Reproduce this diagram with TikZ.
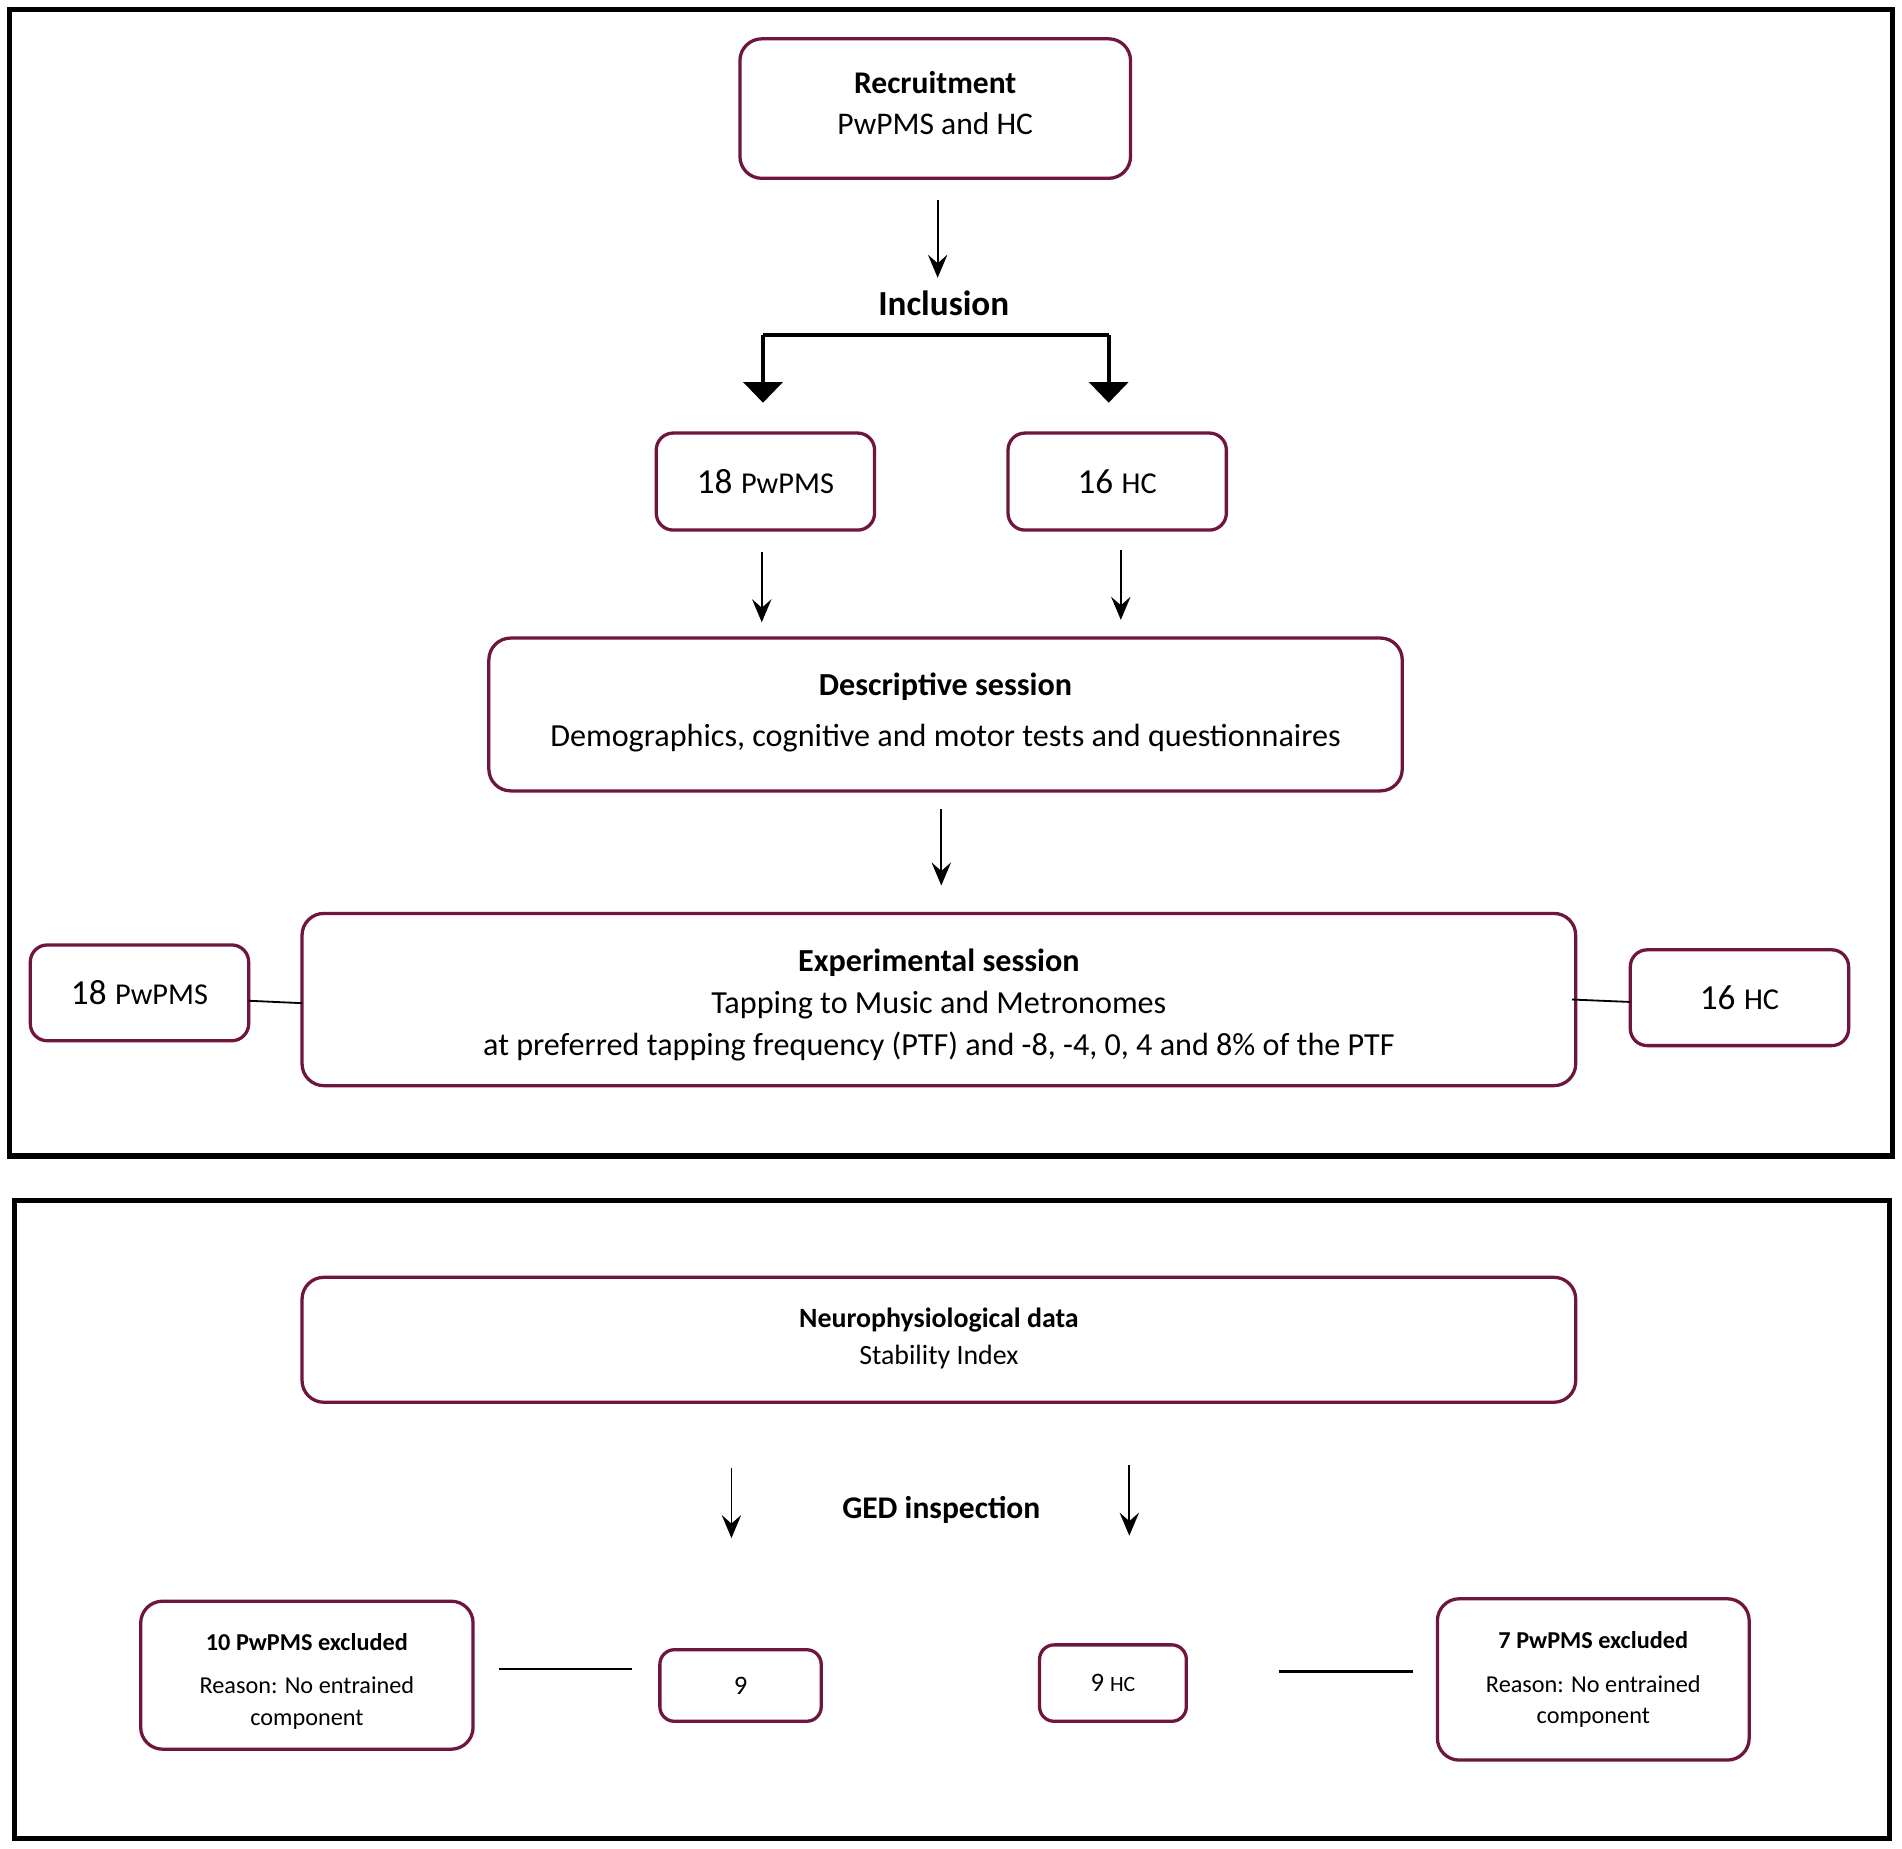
\documentclass[tikz,border=0pt]{standalone}
\usepackage{fontspec}
\setmainfont{Carlito}
\usetikzlibrary{arrows.meta,calc}
\definecolor{boxred}{RGB}{110,22,62}
\newcommand{\fs}[2]{\fontsize{#1}{#2}\selectfont}
\begin{document}
\begin{tikzpicture}[x=1pt,y=-1pt,
  box/.style={draw=boxred, line width=2.7pt, rounded corners=18pt, inner sep=0pt, outer sep=0pt, align=center, fill=white},
  sbox/.style={box, rounded corners=14pt},
  arr/.style={line width=1.5pt, -{Stealth[length=19pt,width=16pt,inset=7pt]}},
  bigarr/.style={line width=3.4pt, -{Triangle[length=17pt,width=32pt]}},
  frame/.style={draw=black, line width=4.2pt},
  link/.style={line width=1.5pt},
  hlink/.style={line width=2pt},
  lbl/.style={inner sep=0pt, outer sep=0pt, align=center}
]
\useasboundingbox (0,0) rectangle (1568,1523.5);
\fill[white] (0,0) rectangle (1568,1523.5);

% frames
\draw[frame] (8,8) rectangle (1560,953);
\draw[frame] (12,990) rectangle (1558,1516);

% ---------- top panel ----------
\node[box, minimum width=322pt, minimum height=115pt] (rec) at (771,89.5) {};
\node[lbl, font=\fs{26}{34}] (rect) at ($(rec.center)+(0,-4.5)$)
  {\textbf{Recruitment}\\PwPMS and HC};
\node[lbl, font=\fs{29}{34}\bfseries, text height=20pt, text depth=0pt] (incl) at (778,250) {Inclusion};

\node[sbox, minimum width=180pt, minimum height=80pt] (p18) at (631,397)
  {{\fs{29}{30}18}\hspace{7pt}{\fs{25}{30}PwPMS}};
\node[sbox, minimum width=180pt, minimum height=80pt] (h16) at (921,397)
  {{\fs{29}{30}16}\hspace{7pt}{\fs{25}{30}HC}};

\node[box, minimum width=753pt, minimum height=126pt] (desc) at (779.5,589) {};
\node[lbl, font=\fs{26.5}{42}] (desct) at ($(desc.center)+(0,-2)$)
  {\textbf{Descriptive session}\\Demographics, cognitive and motor tests and questionnaires};

\node[box, minimum width=1050pt, minimum height=142pt] (exp) at (774,824) {};
\node[lbl, font=\fs{26.5}{35}] (expt) at ($(exp.center)+(0,4.5)$)
  {\textbf{Experimental session}\\Tapping to Music and Metronomes\\at preferred tapping frequency (PTF) and -8, -4, 0, 4 and 8\% of the PTF};

\node[sbox, minimum width=180pt, minimum height=79pt] (l18) at (115,818.5)
  {{\fs{29}{30}18}\hspace{7pt}{\fs{25}{30}PwPMS}};
\node[sbox, minimum width=180pt, minimum height=79pt] (r16) at (1434,822.5)
  {{\fs{29}{30}16}\hspace{7pt}{\fs{25}{30}HC}};

% connectors top
\draw[arr] ($(rec.south)+(2,18)$) -- ($(incl.north)+(-5,-11)$);
\coordinate (brl) at ($(incl.south)+(-149,16)$);
\coordinate (brr) at ($(incl.south)+(136,16)$);
\draw[line width=3.4pt] (brl) -- (brr);
\draw[bigarr] (brl) -- ($(p18.north)+(-2,-25)$);
\draw[bigarr] (brr) -- ($(h16.north)+(-7,-25)$);
\draw[arr] ($(p18.south)+(-3,18)$) -- ($(desc.north -| p18.south)+(-3,-13)$);
\draw[arr] ($(h16.south)+(3,16)$) -- ($(desc.north -| h16.south)+(3,-15)$);
\draw[arr] ($(desc.south)+(-3.5,15)$) -- ($(exp.north)+(2,-23)$);
\draw[link] ($(l18.east)+(0,6.5)$) -- ($(exp.west)+(0,3)$);
\draw[link] ($(exp.east)+(-3,0)$) -- ($(r16.west)+(0,3.5)$);

% ---------- bottom panel ----------
\node[box, minimum width=1050pt, minimum height=103pt] (neuro) at (774,1104.5) {};
\node[lbl, font=\fs{23}{31}] (neurot) at ($(neuro.center)+(0,-1)$)
  {\textbf{Neurophysiological data}\\Stability Index};
\node[lbl, font=\fs{26}{30}\bfseries] (ged) at (776,1245) {GED inspection};

\node[box, minimum width=274pt, minimum height=122pt] (ex10) at (253,1381) {};
\node[lbl, font=\fs{20}{26}] (ex10t) at ($(ex10.center)+(0,5)$)
  {\textbf{10 PwPMS excluded}\\[10pt]Reason: No entrained\\component};
\node[sbox, minimum width=133pt, minimum height=59pt, rounded corners=12pt, font=\fs{22}{26}] (nine) at (610.5,1389.5) {9};
\node[sbox, minimum width=121pt, minimum height=63pt, rounded corners=12pt] (nhc) at (917.5,1387.5)
  {{\fs{22}{26}9}\hspace{5pt}{\fs{18}{26}HC}};
\node[box, minimum width=257pt, minimum height=133pt] (ex7) at (1313.5,1384.5) {};
\node[lbl, font=\fs{20}{26}] (ex7t) at (ex7.center)
  {\textbf{7 PwPMS excluded}\\[10pt]Reason: No entrained\\component};

\draw[arr] ($(neuro.south)+(-171,54)$) -- ($(nine.north)+(-7.5,-92)$);
\draw[arr] ($(neuro.south)+(157,52)$) -- ($(nhc.north)+(13.5,-90)$);
\draw[hlink] ($(ex10.east)+(21,-5)$) -- ($(nine.west)+(-23,-13.5)$);
\draw[hlink] ($(nhc.east)+(76,-9.5)$) -- ($(ex7.west)+(-20,-6.5)$);
\end{tikzpicture}
\end{document}
